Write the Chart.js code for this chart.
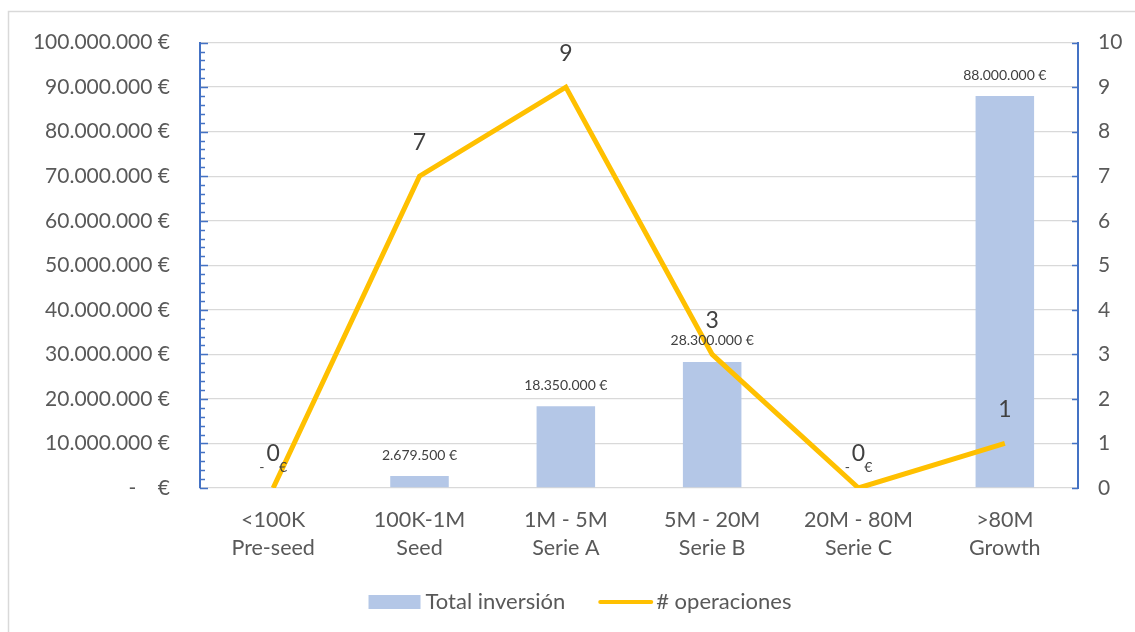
<!DOCTYPE html>
<html>
<head>
<meta charset="utf-8">
<script src="https://cdn.jsdelivr.net/npm/chart.js@4.4.1/dist/chart.umd.min.js"></script>
<style>
  html, body { margin: 0; padding: 0; background: #fff; }
  #wrap { width: 1135px; height: 632px; }
</style>
</head>
<body>
<div id="wrap"><canvas id="chart" width="1135" height="632"></canvas></div>
<script>
// --- Data ---
const categories = [
    ['<100K', 'Pre-seed'],
    ['100K-1M', 'Seed'],
    ['1M - 5M', 'Serie A'],
    ['5M - 20M', 'Serie B'],
    ['20M - 80M', 'Serie C'],
    ['>80M', 'Growth']
];
const totalInversion = [0, 2679500, 18350000, 28300000, 0, 88000000];
const numOperaciones = [0, 7, 9, 3, 0, 1];
const leftTicks = [0, 10000000, 20000000, 30000000, 40000000, 50000000, 60000000, 70000000, 80000000, 90000000, 100000000];
const rightTicks = [0, 1, 2, 3, 4, 5, 6, 7, 8, 9, 10];

const FONT = 'Lato, "Open Sans", sans-serif';
const TEXT = '#595959';
const LABEL = '#404040';
const BLUE_AXIS = '#4472C4';
const BAR = '#B4C7E7';
const LINE = '#FFC000';

// euro format with dots as thousand separators
function euro(n) {
    if (n === 0) return '-    €';
    return String(n).replace(/\B(?=(\d{3})+(?!\d))/g, '.') + ' €';
}

// --- Outer frame of the chart object ---
const framePlugin = {
    id: 'frame',
    beforeDraw(chart) {
        const ctx = chart.ctx;
        ctx.save();
        ctx.fillStyle = '#fff';
        ctx.fillRect(0, 0, chart.width, chart.height);
        ctx.strokeStyle = '#d9d9d9';
        ctx.lineWidth = 1.5;
        ctx.strokeRect(8.5, 11.5, chart.width + 50, chart.height + 50);
        ctx.restore();
    }
};

// --- Inward tick marks (major + minor on left, major on right) ---
const tickPlugin = {
    id: 'innerTicks',
    afterDraw(chart) {
        const ctx = chart.ctx;
        const area = chart.chartArea;
        const y = chart.scales.y;
        const y1 = chart.scales.y1;
        ctx.save();
        ctx.strokeStyle = BLUE_AXIS;
        ctx.lineWidth = 1.5;
        for (let v = 0; v <= 100000000; v += 2000000) {
            const py = Math.round(y.getPixelForValue(v)) + 0.5;
            const len = v % 10000000 === 0 ? 8 : 5;
            ctx.beginPath();
            ctx.moveTo(area.left, py);
            ctx.lineTo(area.left + len, py);
            ctx.stroke();
        }
        rightTicks.forEach(v => {
            const py = Math.round(y1.getPixelForValue(v)) + 0.5;
            ctx.beginPath();
            ctx.moveTo(area.right - 6, py);
            ctx.lineTo(area.right, py);
            ctx.stroke();
        });
        ctx.restore();
    }
};

// --- Data labels for bars and line points ---
const labelPlugin = {
    id: 'valueLabels',
    afterDatasetsDraw(chart) {
        const ctx = chart.ctx;
        ctx.save();
        ctx.textAlign = 'center';
        ctx.textBaseline = 'middle';
        ctx.fillStyle = LABEL;
        const barMeta = chart.getDatasetMeta(0);
        ctx.font = '14px ' + FONT;
        barMeta.data.forEach((el, i) => {
            ctx.fillText(euro(totalInversion[i]), el.x, el.y - 21);
        });
        const lineMeta = chart.getDatasetMeta(1);
        ctx.font = '23px ' + FONT;
        lineMeta.data.forEach((el, i) => {
            ctx.fillText(String(numOperaciones[i]), el.x, el.y - 34);
        });
        ctx.restore();
    }
};

// --- Legend drawn by hand (bar swatch + line swatch) ---
const legendPlugin = {
    id: 'handLegend',
    afterDraw(chart) {
        const ctx = chart.ctx;
        const ds = chart.data.datasets;
        ctx.save();
        ctx.font = '22px ' + FONT;
        ctx.textBaseline = 'middle';
        const w1 = ctx.measureText(ds[0].label).width;
        const w2 = ctx.measureText(ds[1].label).width;
        const total = 52 + 5 + w1 + 33 + 55 + 3 + w2;
        let x = 580 - total / 2;
        const cy = 602;
        ctx.fillStyle = BAR;
        ctx.fillRect(x, cy - 7, 52, 14);
        x += 57;
        ctx.fillStyle = TEXT;
        ctx.fillText(ds[0].label, x, cy);
        x += w1 + 33;
        ctx.strokeStyle = LINE;
        ctx.lineWidth = 4;
        ctx.lineCap = 'round';
        ctx.beginPath();
        ctx.moveTo(x + 2, cy);
        ctx.lineTo(x + 53, cy);
        ctx.stroke();
        x += 58;
        ctx.fillText(ds[1].label, x, cy);
        ctx.restore();
    }
};

const config = {
    type: 'bar',
    data: {
        labels: categories,
        datasets: [
            {
                type: 'bar',
                label: 'Total inversión',
                data: totalInversion,
                backgroundColor: BAR,
                yAxisID: 'y',
                barPercentage: 0.4,
                categoryPercentage: 1,
                order: 2
            },
            {
                type: 'line',
                label: '# operaciones',
                data: numOperaciones,
                borderColor: LINE,
                borderWidth: 5,
                pointRadius: 0,
                tension: 0,
                yAxisID: 'y1',
                order: 1
            }
        ]
    },
    options: {
        responsive: false,
        animation: false,
        layout: { padding: { left: 0, right: 0, top: 40, bottom: 0 } },
        plugins: {
            legend: { display: false },
            tooltip: { enabled: false }
        },
        scales: {
            x: {
                grid: { display: false },
                border: { display: false },
                ticks: {
                    color: TEXT,
                    font: { family: FONT, size: 21.5, lineHeight: 1.3 },
                    padding: 10,
                    maxRotation: 0,
                    autoSkip: false
                },
                afterFit(scale) { scale.height = 632 - 488; }
            },
            y: {
                position: 'left',
                min: 0,
                max: 100000000,
                afterBuildTicks(scale) { scale.ticks = leftTicks.map(v => ({ value: v })); },
                grid: { color: '#d9d9d9', lineWidth: 1.3, drawTicks: false },
                border: { color: BLUE_AXIS, width: 2 },
                ticks: {
                    color: TEXT,
                    font: { family: FONT, size: 21 },
                    padding: 30,
                    callback: v => euro(v)
                },
                afterFit(scale) { scale.width = 200; }
            },
            y1: {
                position: 'right',
                min: 0,
                max: 10,
                afterBuildTicks(scale) { scale.ticks = rightTicks.map(v => ({ value: v })); },
                grid: { drawOnChartArea: false, drawTicks: false },
                border: { color: BLUE_AXIS, width: 2 },
                ticks: {
                    color: TEXT,
                    font: { family: FONT, size: 21 },
                    padding: 20
                },
                afterFit(scale) { scale.width = 1135 - 1078; }
            }
        }
    },
    plugins: [framePlugin, tickPlugin, labelPlugin, legendPlugin]
};

new Chart(document.getElementById('chart'), config);
</script>
</body>
</html>
